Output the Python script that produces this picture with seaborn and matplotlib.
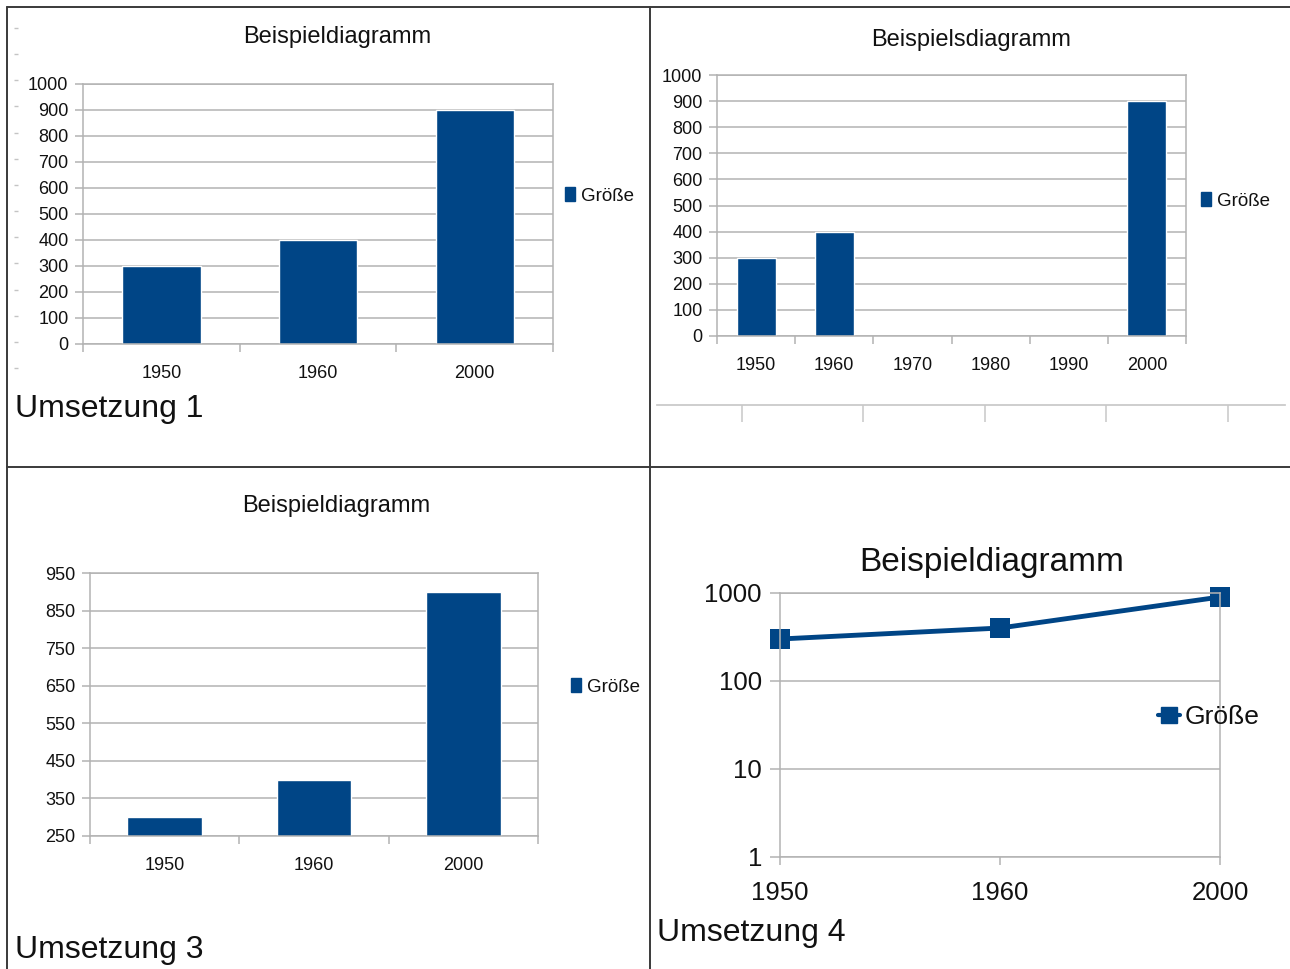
import matplotlib
matplotlib.use("Agg")
import matplotlib.pyplot as plt
import seaborn as sns
import numpy as np
import pandas as pd
from matplotlib.lines import Line2D
from matplotlib.patches import Patch
from matplotlib.ticker import FixedLocator, NullFormatter, FixedFormatter, NullLocator

# ---- data ----
years = ["1950", "1960", "2000"]
groesse = [300, 400, 900]
years_decades = ["1950", "1960", "1970", "1980", "1990", "2000"]
title_1 = "Beispieldiagramm"
title_2 = "Beispielsdiagramm"
series_name = "Größe"
yticks_1 = list(range(0, 1001, 100))
yticks_3 = list(range(250, 951, 100))
yticks_4 = [1, 10, 100, 1000]
captions = ["Umsetzung 1", "Umsetzung 3", "Umsetzung 4"]

sns.set_theme(style="white")
plt.rcParams['font.family'] = ['Liberation Sans', 'DejaVu Sans']
plt.rcParams['text.color'] = 'black'

W, H = 1290, 969
fig = plt.figure(figsize=(12.9, 9.69), dpi=100)


def fx(x):
    return x / W


def fy(y):
    return 1 - y / H


def rect(x0, y0, x1, y1):
    return [x0 / W, 1 - y1 / H, (x1 - x0) / W, (y1 - y0) / H]


BLUE = "#004586"
GRID = "#b3b3b3"
TXT = "#111111"
df = pd.DataFrame({"Jahr": years, series_name: groesse})


def style_cat_axes(ax, cats, yticks, ylim, fs=13):
    n = len(cats)
    ax.set_ylim(*ylim)
    ax.set_yticks(yticks)
    ax.set_yticklabels([str(t) for t in yticks])
    ax.set_xlim(-0.5, n - 0.5)
    ax.xaxis.set_major_locator(FixedLocator(np.arange(-0.5, n, 1.0)))
    ax.xaxis.set_major_formatter(NullFormatter())
    ax.xaxis.set_minor_locator(FixedLocator(np.arange(n)))
    ax.xaxis.set_minor_formatter(FixedFormatter(cats))
    ax.set_xlabel("")
    ax.set_ylabel("")
    ax.yaxis.grid(True, color=GRID, lw=1.1)
    ax.xaxis.grid(False)
    ax.set_axisbelow(True)
    for s in ax.spines.values():
        s.set_visible(True)
        s.set_color(GRID)
        s.set_linewidth(1.1)
    ax.tick_params(axis='y', which='major', left=True, length=6, width=1.1,
                   color=GRID, pad=4.5, labelsize=fs, labelcolor=TXT)
    ax.tick_params(axis='x', which='major', bottom=True, length=6, width=1.1,
                   color=GRID)
    ax.tick_params(axis='x', which='minor', bottom=True, length=0, pad=15,
                   labelsize=fs, labelcolor=TXT)


def bar_legend(ax, x, y, fs=13.5):
    ax.legend(handles=[Patch(facecolor=BLUE, edgecolor=BLUE, label=series_name)],
              loc='center left', bbox_to_anchor=(fx(x), fy(y)),
              bbox_transform=fig.transFigure, frameon=False, fontsize=fs,
              handlelength=0.55, handleheight=0.75, handletextpad=0.3,
              borderpad=0, borderaxespad=0, labelcolor=TXT)


# ---- Panel 1 ----
ax1 = fig.add_axes(rect(83, 84, 553, 344))
sns.barplot(data=df, x="Jahr", y=series_name, color=BLUE, width=0.5,
            saturation=1, ax=ax1, errorbar=None)
style_cat_axes(ax1, years, yticks_1, (0, 1000))
bar_legend(ax1, 565, 196)
fig.text(fx(337), fy(37), title_1, ha='center', va='center', fontsize=17, color=TXT)

# ruler dashes on the left of panel 1
axr = fig.add_axes(rect(18, 28, 19, 368))
axr.set_ylim(-100, 1200)
axr.set_yticks(list(range(-100, 1201, 100)))
axr.set_yticklabels([])
axr.set_xticks([])
for s in axr.spines.values():
    s.set_visible(False)
axr.patch.set_visible(False)
axr.tick_params(axis='y', left=True, length=3, width=1, color='#c4c4c4')

fig.text(fx(15), fy(409), captions[0], ha='left', va='center', fontsize=23, color=TXT)

# ---- Panel 2 ----
ax2 = fig.add_axes(rect(717, 75, 1186, 336))
sns.barplot(data=df, x="Jahr", y=series_name, order=years_decades, color=BLUE,
            width=0.5, saturation=1, ax=ax2, errorbar=None)
style_cat_axes(ax2, years_decades, yticks_1, (0, 1000))
bar_legend(ax2, 1201, 201)
fig.text(fx(971), fy(40), title_2, ha='center', va='center', fontsize=17, color=TXT)

# stray axis line below panel 2
axd = fig.add_axes(rect(657, 395, 1285, 405))
axd.set_xlim(-0.70, 4.47)
axd.set_xticks(list(range(5)))
axd.set_xticklabels([])
axd.set_yticks([])
for k, s in axd.spines.items():
    s.set_visible(k == 'bottom')
axd.spines['bottom'].set_color('#c8c8c8')
axd.patch.set_visible(False)
axd.tick_params(axis='x', bottom=True, length=12, width=1.1, color='#c8c8c8')

# ---- Panel 3 ----
ax3 = fig.add_axes(rect(90, 573, 538, 836))
sns.barplot(data=df, x="Jahr", y=series_name, color=BLUE, width=0.5,
            saturation=1, ax=ax3, errorbar=None)
style_cat_axes(ax3, years, yticks_3, (250, 950))
bar_legend(ax3, 571, 687)
fig.text(fx(336), fy(506), title_1, ha='center', va='center', fontsize=17, color=TXT)
fig.text(fx(15), fy(950), captions[1], ha='left', va='center', fontsize=23, color=TXT)

# ---- Panel 4 ----
ax4 = fig.add_axes(rect(780, 593, 1220, 857))
sns.lineplot(data=df, x="Jahr", y=series_name, color=BLUE, marker='s',
             markersize=14, linewidth=3.5, markeredgewidth=0, sort=False,
             ax=ax4, legend=False)
for ln in ax4.lines:
    ln.set_clip_on(False)
ax4.set_yscale('log')
ax4.set_ylim(1, 1000)
ax4.set_xlim(0, len(years) - 1)
ax4.set_yticks(yticks_4)
ax4.set_yticklabels([str(t) for t in yticks_4])
ax4.yaxis.set_minor_locator(NullLocator())
ax4.set_xticks(range(len(years)))
ax4.set_xticklabels(years)
ax4.set_xlabel("")
ax4.set_ylabel("")
ax4.yaxis.grid(True, color=GRID, lw=1.1)
ax4.xaxis.grid(False)
ax4.set_axisbelow(True)
for s in ax4.spines.values():
    s.set_visible(True)
    s.set_color(GRID)
    s.set_linewidth(1.1)
ax4.tick_params(axis='y', left=True, length=7, width=1.1, color=GRID, pad=6,
                labelsize=18.5, labelcolor=TXT)
ax4.tick_params(axis='x', bottom=True, length=6, width=1.1, color=GRID, pad=11,
                labelsize=18.5, labelcolor=TXT)
ax4.legend(handles=[Line2D([], [], color=BLUE, marker='s', markersize=11,
                           lw=3, label=series_name)],
           loc='center left', bbox_to_anchor=(fx(1158), fy(717)),
           bbox_transform=fig.transFigure, frameon=False, fontsize=19,
           handlelength=0.85, handletextpad=0.15, borderpad=0, borderaxespad=0,
           labelcolor=TXT)
fig.text(fx(992), fy(563), title_1, ha='center', va='center', fontsize=24, color=TXT)
fig.text(fx(657), fy(933), captions[2], ha='left', va='center', fontsize=23, color=TXT)

# ---- frame lines ----
FRAME = '#3a3a3a'
for xs, ys in [((7, 1290), (7, 7)), ((7, 1290), (467, 467)),
               ((7, 7), (7, 969)), ((650, 650), (7, 969))]:
    fig.add_artist(Line2D([fx(xs[0]), fx(xs[1])], [fy(ys[0]), fy(ys[1])],
                          color=FRAME, lw=1.4, transform=fig.transFigure))

fig.savefig("out.png", dpi=100)
